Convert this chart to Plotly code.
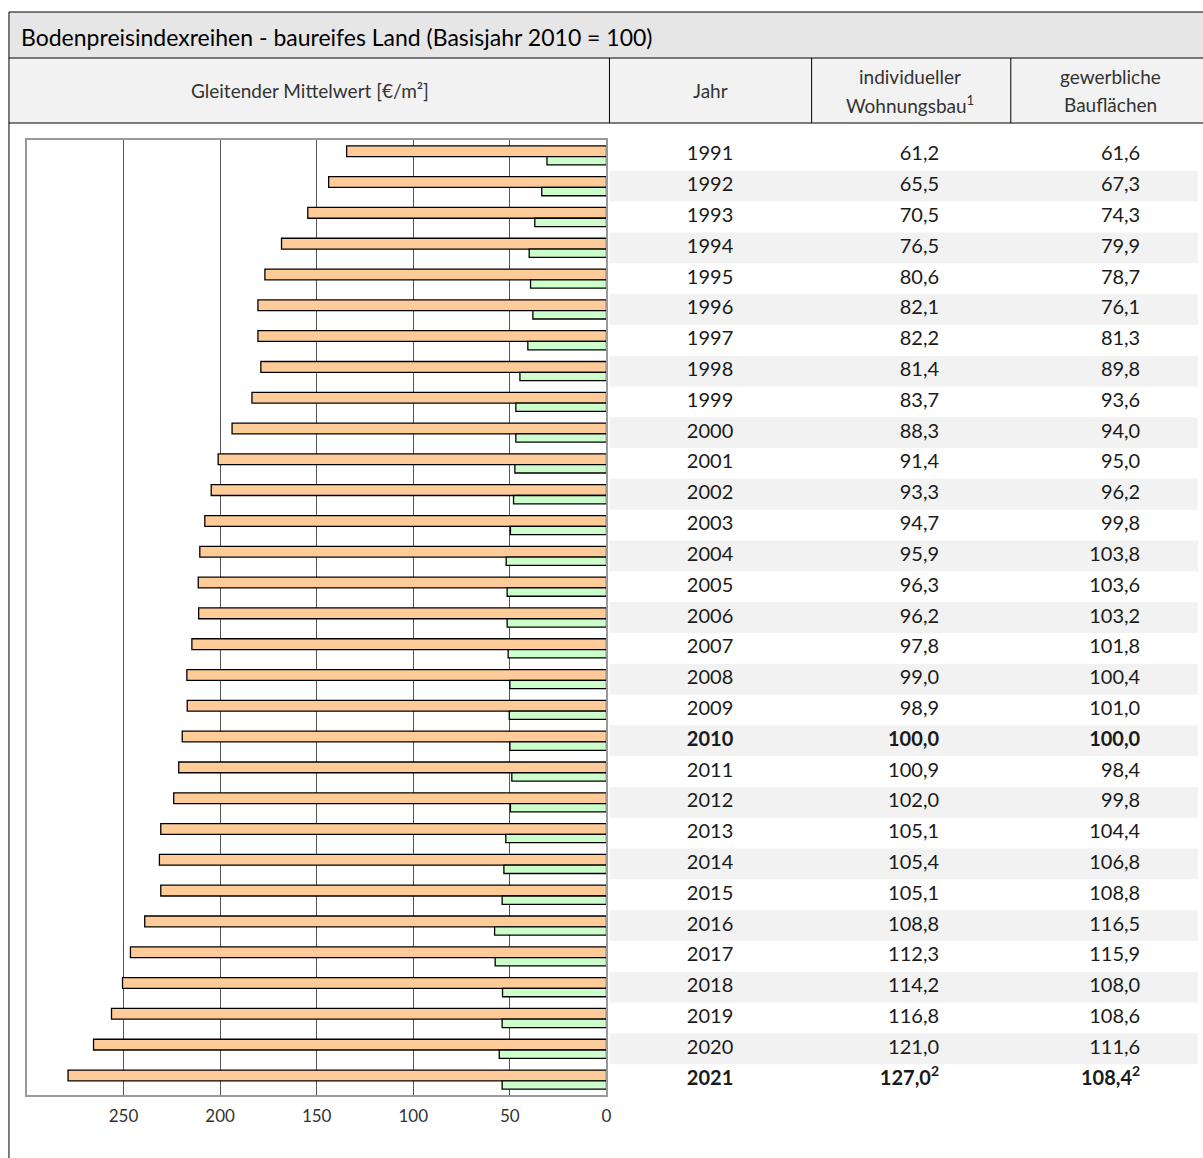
import plotly.graph_objects as go

# Jahre und Werte
jahre = list(range(1991, 2022))

mittel_wohnbau = [134.5, 143.8, 154.6, 168.2, 176.8, 180.4, 180.4, 178.9, 183.5, 193.8,
                  201.0, 204.6, 207.9, 210.5, 211.3, 211.1, 214.6, 217.2, 217.0, 219.6,
                  221.4, 224.0, 230.7, 231.4, 230.7, 239.0, 246.4, 250.5, 256.2, 265.5,
                  278.7]
mittel_gewerbe = [30.8, 33.5, 37.1, 40.0, 39.3, 38.1, 40.7, 44.8, 46.9, 46.9,
                  47.4, 48.1, 49.7, 51.9, 51.4, 51.4, 50.9, 50.0, 50.3, 50.0,
                  49.0, 49.7, 52.1, 53.1, 54.0, 57.9, 57.6, 53.8, 54.0, 55.5,
                  54.0]

# Indexwerte (Basisjahr 2010 = 100)
index_wohnbau = [61.2, 65.5, 70.5, 76.5, 80.6, 82.1, 82.2, 81.4, 83.7, 88.3,
                 91.4, 93.3, 94.7, 95.9, 96.3, 96.2, 97.8, 99.0, 98.9, 100.0,
                 100.9, 102.0, 105.1, 105.4, 105.1, 108.8, 112.3, 114.2, 116.8, 121.0,
                 127.0]
index_gewerbe = [61.6, 67.3, 74.3, 79.9, 78.7, 76.1, 81.3, 89.8, 93.6, 94.0,
                 95.0, 96.2, 99.8, 103.8, 103.6, 103.2, 101.8, 100.4, 101.0, 100.0,
                 98.4, 99.8, 104.4, 106.8, 108.8, 116.5, 115.9, 108.0, 108.6, 111.6,
                 108.4]
fett = [2010, 2021]
fussnote = {2021: "2"}

x_ticks = [0, 50, 100, 150, 200, 250]

W, H = 1203, 1158
FONT = "Lato"


def px(x):
    return x / W


def py(y):
    return 1 - y / H


def fmt(v, jahr):
    s = f"{v:.1f}".replace(".", ",")
    if jahr in fussnote:
        s += "<sup>" + fussnote[jahr] + "</sup>"
    if jahr in fett:
        s = "<b>" + s + "</b>"
    return s


def fmt_jahr(j):
    return f"<b>{j}</b>" if j in fett else str(j)


fig = go.Figure()

fig.add_trace(go.Bar(y=jahre, x=mittel_wohnbau, orientation="h",
                     name="individueller Wohnungsbau",
                     marker=dict(color="#FFCC99", line=dict(color="black", width=1.3)),
                     width=0.35, offset=-0.31))
fig.add_trace(go.Bar(y=jahre, x=mittel_gewerbe, orientation="h",
                     name="gewerbliche Bauflächen",
                     marker=dict(color="#CCFFCC", line=dict(color="black", width=1.3)),
                     width=0.27, offset=0.04))

# Tabelle rechts
tab_font = dict(family=FONT, size=20, color="#1a1a1a")
fig.add_trace(go.Scatter(x=[713] * len(jahre), y=jahre, mode="text",
                         text=[fmt_jahr(j) for j in jahre], textposition="middle center",
                         textfont=tab_font, xaxis="x2", yaxis="y", cliponaxis=False,
                         hoverinfo="skip"))
fig.add_trace(go.Scatter(x=[943] * len(jahre), y=jahre, mode="text",
                         text=[fmt(v, j) for v, j in zip(index_wohnbau, jahre)],
                         textposition="middle left",
                         textfont=tab_font, xaxis="x2", yaxis="y", cliponaxis=False,
                         hoverinfo="skip"))
fig.add_trace(go.Scatter(x=[1145] * len(jahre), y=jahre, mode="text",
                         text=[fmt(v, j) for v, j in zip(index_gewerbe, jahre)],
                         textposition="middle left",
                         textfont=tab_font, xaxis="x2", yaxis="y", cliponaxis=False,
                         hoverinfo="skip"))

shapes = []
# Zeilenschattierung
for j in jahre:
    if j % 2 == 0:
        shapes.append(dict(type="rect", xref="x2", yref="y", x0=612, x1=1203,
                           y0=j - 0.5, y1=j + 0.5, fillcolor="#f2f2f2",
                           line=dict(width=0), layer="below"))

# Titel- und Kopfzeile
shapes += [
    dict(type="rect", xref="paper", yref="paper", x0=px(9), x1=px(1210),
         y0=py(58), y1=py(12), fillcolor="#e6e6e6", line=dict(width=0), layer="below"),
    dict(type="rect", xref="paper", yref="paper", x0=px(9), x1=px(1210),
         y0=py(123), y1=py(58), fillcolor="#f2f2f2", line=dict(width=0), layer="below"),
]
for yy in [12, 58, 123]:
    shapes.append(dict(type="line", xref="paper", yref="paper", x0=px(9), x1=px(1210),
                       y0=py(yy), y1=py(yy), line=dict(color="black", width=1)))
shapes.append(dict(type="line", xref="paper", yref="paper", x0=px(9), x1=px(9),
                   y0=py(12), y1=0, line=dict(color="black", width=1)))
for xx in [612, 815, 1015]:
    shapes.append(dict(type="line", xref="paper", yref="paper", x0=px(xx), x1=px(xx),
                       y0=py(123), y1=py(58), line=dict(color="black", width=1)))

head_font = dict(family=FONT, size=19, color="#333333")
annotations = [
    dict(text="Bodenpreisindexreihen - baureifes Land (Basisjahr 2010 = 100)",
         x=px(19), y=py(37), xanchor="left", yanchor="middle",
         font=dict(family=FONT, size=23, color="black")),
    dict(text="Gleitender Mittelwert [€/m²]", x=px(311), y=py(91), font=head_font),
    dict(text="Jahr", x=px(713), y=py(91), font=head_font),
    dict(text="individueller", x=px(914), y=py(77), font=head_font),
    dict(text="Wohnungsbau<sup>1</sup>", x=px(914), y=py(105), font=head_font),
    dict(text="gewerbliche", x=px(1115), y=py(77), font=head_font),
    dict(text="Bauflächen", x=px(1115), y=py(105), font=head_font),
]
for a in annotations:
    a.update(xref="paper", yref="paper", showarrow=False)
    a.setdefault("xanchor", "center")
    a.setdefault("yanchor", "middle")

fig.update_layout(
    width=W, height=H,
    margin=dict(l=0, r=0, t=0, b=0),
    paper_bgcolor="white", plot_bgcolor="rgba(0,0,0,0)",
    showlegend=False,
    font=dict(family=FONT),
    xaxis=dict(domain=[px(27), px(609)], range=[300, 0], tickvals=x_ticks,
               showgrid=True, gridcolor="#555555", gridwidth=1, zeroline=False,
               showline=True, linecolor="#999999", linewidth=1.5, mirror=True,
               ticks="", ticklabelstandoff=5,
               tickfont=dict(family=FONT, size=17, color="#333333")),
    yaxis=dict(domain=[py(1095), py(140)], range=[2021.5, 1990.5],
               showticklabels=False, showgrid=False, zeroline=False,
               showline=True, linecolor="#999999", linewidth=1.5, mirror=True),
    xaxis2=dict(domain=[px(612), 1], range=[612, 1203], anchor="y", visible=False),
    shapes=shapes,
    annotations=annotations,
)

fig.write_html("out.html", config={"displayModeBar": False},
               post_script="document.body.style.margin='0';document.body.style.overflow='hidden';")
